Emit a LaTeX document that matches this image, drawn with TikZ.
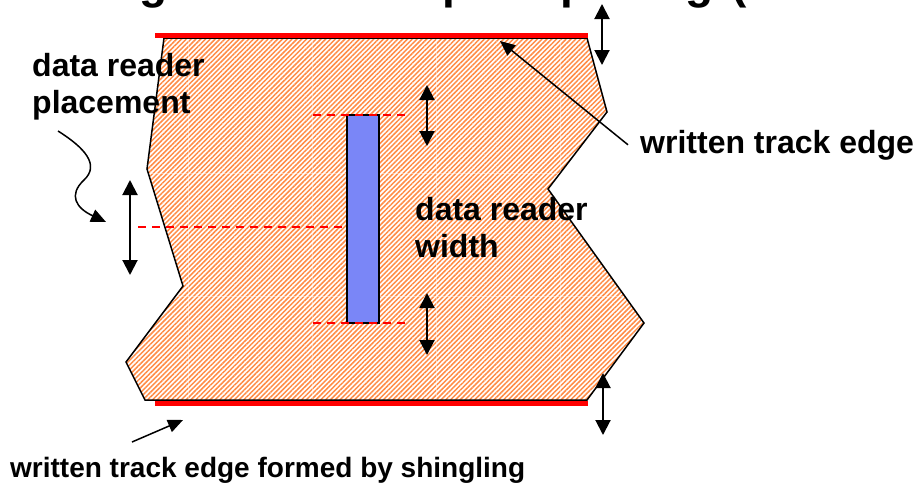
\documentclass[tikz,border=0pt]{standalone}
\usepackage{fontspec}
\setmainfont{Liberation Sans}
\usetikzlibrary{arrows.meta,patterns.meta}
\definecolor{hatch}{RGB}{255,140,70}
\definecolor{reader}{RGB}{122,134,247}
\begin{document}
\begin{tikzpicture}[x=1pt,y=-1pt,
  >={Triangle[width=15pt,length=15pt]},
  edge/.style={red,line width=5pt},
  guide/.style={red,line width=1.2pt,dash pattern=on 8pt off 6pt},
  span/.style={<->,line width=2pt},
  pointer/.style={-{Triangle[width=13pt,length=15pt]},line width=1.5pt},
  titlefont/.style={font=\bfseries\fontsize{46}{50}\selectfont,inner sep=0pt,anchor=base west},
  lbl/.style={font=\bfseries\fontsize{32}{37}\selectfont,align=left,inner sep=0pt,anchor=base west}]
  \useasboundingbox[fill=white] (0,0) rectangle (915,485);

  % cut-off title
  \foreach \c/\x [count=\i] in {g/139,p/442,p/560,g/685}
    \node[titlefont] (ttl\i) at (\x,-2) {\c};
  \node[titlefont] (ttl5) at (731,-2) {(};

  % track outline
  \coordinate (p0) at (164,38);
  \coordinate (p1) at (587,38);
  \coordinate (p2) at (607,112);
  \coordinate (p3) at (548,189);
  \coordinate (p4) at (644,323);
  \coordinate (p5) at (587,400);
  \coordinate (p6) at (145,400);
  \coordinate (p7) at (126,362);
  \coordinate (p8) at (183,286);
  \coordinate (p9) at (147,169);

  \fill[pattern={Lines[angle=45,distance=3.4pt,line width=1.5pt]},pattern color=hatch]
    (p0) -- (p1) -- (p2) -- (p3) -- (p4) -- (p5) -- (p6) -- (p7) -- (p8) -- (p9) -- cycle;
  \begin{scope}
    \clip (p0) -- (p1) -- (p2) -- (p3) -- (p4) -- (p5) -- (p6) -- (p7) -- (p8) -- (p9) -- cycle;
    \foreach \x in {188,312,436,560}
      \draw[white,opacity=0.4,line width=0.8pt] (\x,30) -- (\x,410);
    \foreach \y in {173,296}
      \draw[white,opacity=0.4,line width=0.8pt] (120,\y) -- (650,\y);
  \end{scope}
  \draw[line width=1.5pt,line join=miter]
    (p0) -- (p1) -- (p2) -- (p3) -- (p4) -- (p5) -- (p6) -- (p7) -- (p8) -- (p9) -- cycle;

  \draw[edge] (155,35.5) -- (588,35.5);
  \draw[edge] (155,403.5) -- (588,403.5);

  % reader
  \node[draw,fill=reader,line width=1.5pt,inner sep=0pt,minimum width=32pt,minimum height=208pt] (rd) at (363,219) {};
  \draw[guide] (313,115) -- (406,115);
  \draw[guide] (313,323) -- (406,323);
  \draw[guide] (138,227) -- (rd.west |- 0,227);

  % spans
  \draw[span] (602,4) -- (602,65);
  \draw[span] (427,85) -- (427,146);
  \draw[span] (427,293) -- (427,355);
  \draw[span] (130,180) -- (130,275);
  \draw[span] (603,373) -- (603,435);

  % labels
  \node[lbl] (place) at (32,113) {data reader\\placement};
  \node[lbl] (width) at (415,257) {data reader\\width};
  \node[lbl] (toptxt) at (640,153) {written track edge};
  \node[lbl,font=\bfseries\fontsize{28}{32}\selectfont] (bottxt) at (10,477) {written track edge formed by shingling};

  \coordinate (toptip) at (500,41);
  \coordinate (bottip) at (183,420);
  \coordinate (readtip) at (106,222);
  \draw[pointer] ([xshift=-12pt]toptxt.west) -- (toptip);
  \draw[pointer] (132,442) -- (bottip);
  \draw[pointer] (58,131) .. controls (85,148) and (100,165) .. (84,180)
    .. controls (68,195) and (76,208) .. (readtip);
\end{tikzpicture}
\end{document}
